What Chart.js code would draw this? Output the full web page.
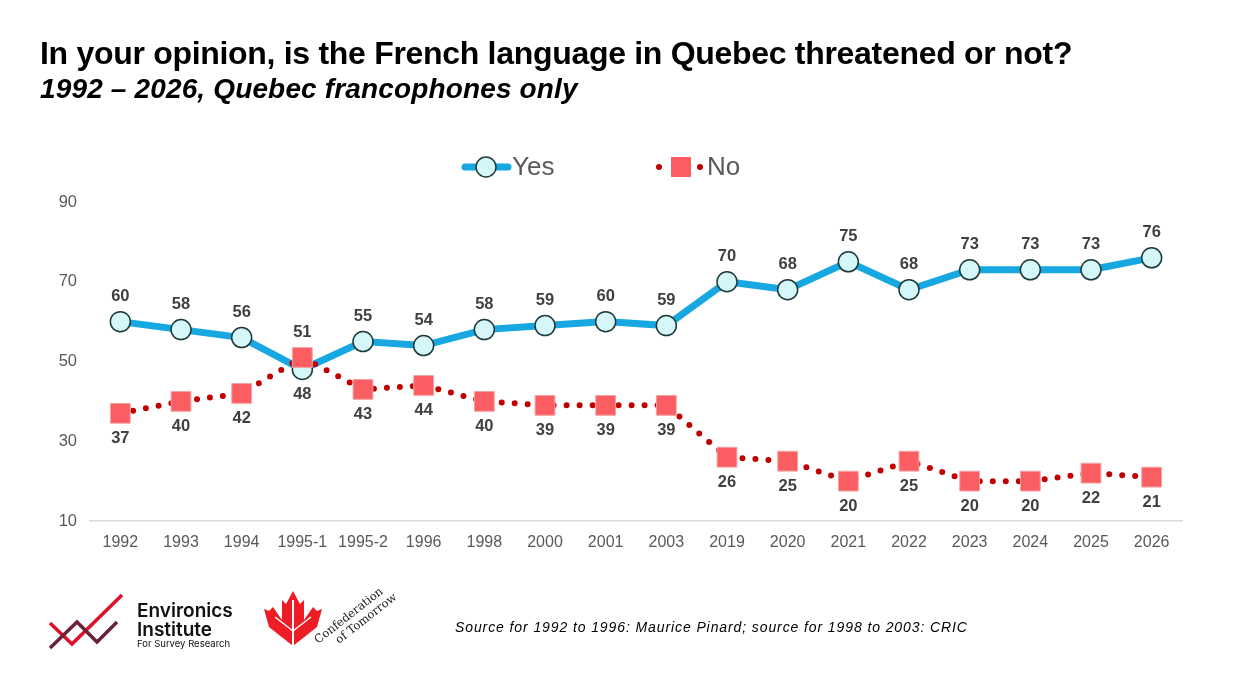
<!DOCTYPE html>
<html>
<head>
<meta charset="utf-8">
<script src="https://cdn.jsdelivr.net/npm/chart.js@4.4.0/dist/chart.umd.min.js"></script>
<style>
  html, body { margin: 0; padding: 0; background: #fff; }
  body { width: 1248px; height: 694px; position: relative; overflow: hidden; font-family: "Liberation Sans", Arial, sans-serif; }
  #wrap { position: absolute; left: 0; top: 0; width: 1248px; height: 694px; }
  h1 { position: absolute; left: 40px; top: 37px; margin: 0; font-size: 32px; font-weight: bold; letter-spacing: -0.3px; color: #000; white-space: nowrap; line-height: 1; }
  h2 { position: absolute; left: 40px; top: 75px; margin: 0; font-size: 28px; font-weight: bold; font-style: italic; letter-spacing: 0.15px; color: #000; white-space: nowrap; line-height: 1; }
  .source { position: absolute; left: 455px; top: 619px; font-size: 14px; font-style: italic; letter-spacing: 0.9px; color: #000; white-space: nowrap; }
  .logo { position: absolute; left: 40px; top: 585px; }
</style>
</head>
<body>
<div id="wrap"><canvas id="chart" width="1248" height="694"></canvas></div>
<h1>In your opinion, is the French language in Quebec threatened or not?</h1>
<h2>1992 – 2026, Quebec francophones only</h2>

<svg class="logo" width="380" height="75" viewBox="40 585 380 75">
  <!-- Environics Institute -->
  <polyline points="50,623 72,644 122,595" fill="none" stroke="#e0102a" stroke-width="3.5"/>
  <polyline points="50,648 77,622 97,642 117,622" fill="none" stroke="#6b2237" stroke-width="3.5"/>
  <text x="137" y="617" font-family="Inter, Roboto, sans-serif" font-weight="600" font-size="19" fill="#111">Environics</text>
  <text x="137" y="636" font-family="Inter, Roboto, sans-serif" font-weight="600" font-size="19" fill="#111">Institute</text>
  <text x="137" y="647" font-family="Inter, Roboto, sans-serif" font-size="9.5" fill="#111">For Survey Research</text>
  <!-- Confederation of Tomorrow -->
  <path fill="#ee1c25" d="M293,591 L300,604 L304,600 L304,620 L313,607 L317,611 L322,609 L317,627 L293,646 L269,627 L264,609 L269,611 L273,607 L282,620 L282,600 L286,604 Z"/>
  <line x1="293" y1="600" x2="293" y2="647" stroke="#fff" stroke-width="2"/>
  <line x1="293" y1="631" x2="275" y2="617" stroke="#fff" stroke-width="1.5"/>
  <line x1="293" y1="631" x2="311" y2="617" stroke="#fff" stroke-width="1.5"/>
  <g font-family="'DejaVu Serif', serif" font-size="11.5" fill="#1a1a1a">
    <text transform="translate(318,644) rotate(-38)">Confederation</text>
    <text transform="translate(339,644) rotate(-38)">of Tomorrow</text>
  </g>
</svg>

<div class="source">Source for 1992 to 1996: Maurice Pinard; source for 1998 to 2003: CRIC</div>

<script>
const categories = ['1992', '1993', '1994', '1995-1', '1995-2', '1996', '1998', '2000', '2001', '2003',
  '2019', '2020', '2021', '2022', '2023', '2024', '2025', '2026'];
const yesValues = [60, 58, 56, 48, 55, 54, 58, 59, 60, 59, 70, 68, 75, 68, 73, 73, 73, 76];
const noValues = [37, 40, 42, 51, 43, 44, 40, 39, 39, 39, 26, 25, 20, 25, 20, 20, 22, 21];
const yTicks = [10, 30, 50, 70, 90];

const yesBlue = '#17a8e2';
const noRed = '#c00000';

// value labels: higher series above the point, lower one below
const valueLabels = {
  id: 'valueLabels',
  afterDatasetsDraw(chart) {
    const ctx = chart.ctx;
    ctx.save();
    ctx.font = 'bold 16.5px "Liberation Sans", Arial, sans-serif';
    ctx.fillStyle = '#404040';
    ctx.textAlign = 'center';
    ctx.textBaseline = 'middle';
    chart.data.datasets.forEach((ds, di) => {
      const meta = chart.getDatasetMeta(di);
      const other = chart.data.datasets[1 - di].data;
      meta.data.forEach((pt, i) => {
        const above = ds.data[i] >= other[i];
        ctx.fillText(String(ds.data[i]), pt.x, pt.y + (above ? -25 : 25));
      });
    });
    ctx.restore();
  }
};

// legend drawn like the original: line + marker + text
const lineLegend = {
  id: 'lineLegend',
  afterDraw(chart) {
    const ctx = chart.ctx;
    const y = 167;
    ctx.save();
    // Yes
    ctx.strokeStyle = yesBlue;
    ctx.lineWidth = 7;
    ctx.lineCap = 'round';
    ctx.beginPath(); ctx.moveTo(465, y); ctx.lineTo(508, y); ctx.stroke();
    ctx.beginPath(); ctx.arc(486, y, 10, 0, Math.PI * 2);
    ctx.fillStyle = '#d5f7fa'; ctx.fill();
    ctx.lineWidth = 1.5; ctx.strokeStyle = '#1e3a3a'; ctx.stroke();
    // No
    ctx.fillStyle = noRed;
    [659, 700].forEach(x => { ctx.beginPath(); ctx.arc(x, y, 3, 0, Math.PI * 2); ctx.fill(); });
    ctx.fillStyle = '#fb5e62';
    ctx.fillRect(671, y - 10, 20, 20);
    ctx.font = '26px "Liberation Sans", Arial, sans-serif';
    ctx.fillStyle = '#595959';
    ctx.textBaseline = 'middle';
    ctx.fillText('Yes', 512, y + 1);
    ctx.fillText('No', 707, y + 1);
    ctx.restore();
  }
};

new Chart(document.getElementById('chart'), {
  type: 'line',
  data: {
    labels: categories,
    datasets: [
      {
        label: 'Yes',
        data: yesValues,
        borderColor: yesBlue,
        borderWidth: 7,
        pointStyle: 'circle',
        pointRadius: 10,
        pointBackgroundColor: '#d5f7fa',
        pointBorderColor: '#1e3a3a',
        pointBorderWidth: 1.5,
        order: 2
      },
      {
        label: 'No',
        data: noValues,
        borderColor: noRed,
        borderWidth: 6,
        borderDash: [0, 13],
        borderCapStyle: 'round',
        pointStyle: 'rect',
        pointRadius: 14,
        pointBackgroundColor: '#fb5e62',
        pointBorderColor: '#f4a3a3',
        pointBorderWidth: 1,
        order: 1
      }
    ]
  },
  options: {
    responsive: false,
    animation: false,
    layout: { padding: { left: 40, right: 66, top: 202, bottom: 133 } },
    plugins: { legend: { display: false }, tooltip: { enabled: false } },
    scales: {
      x: {
        offset: true,
        grid: { display: false },
        border: { display: true, color: '#d9d9d9', width: 1.5 },
        ticks: { color: '#595959', font: { size: 16, family: '"Liberation Sans", Arial, sans-serif' }, padding: 4, maxRotation: 0 },
        afterFit: s => { s.height = 40; }
      },
      y: {
        min: 10,
        max: 90,
        afterBuildTicks: s => { s.ticks = yTicks.map(v => ({ value: v })); },
        grid: { display: false, drawTicks: false },
        border: { display: false },
        ticks: { color: '#595959', font: { size: 16.5, family: '"Liberation Sans", Arial, sans-serif' }, padding: 13 },
        afterFit: s => { s.width = 50; }
      }
    }
  },
  plugins: [valueLabels, lineLegend]
});
</script>
</body>
</html>
